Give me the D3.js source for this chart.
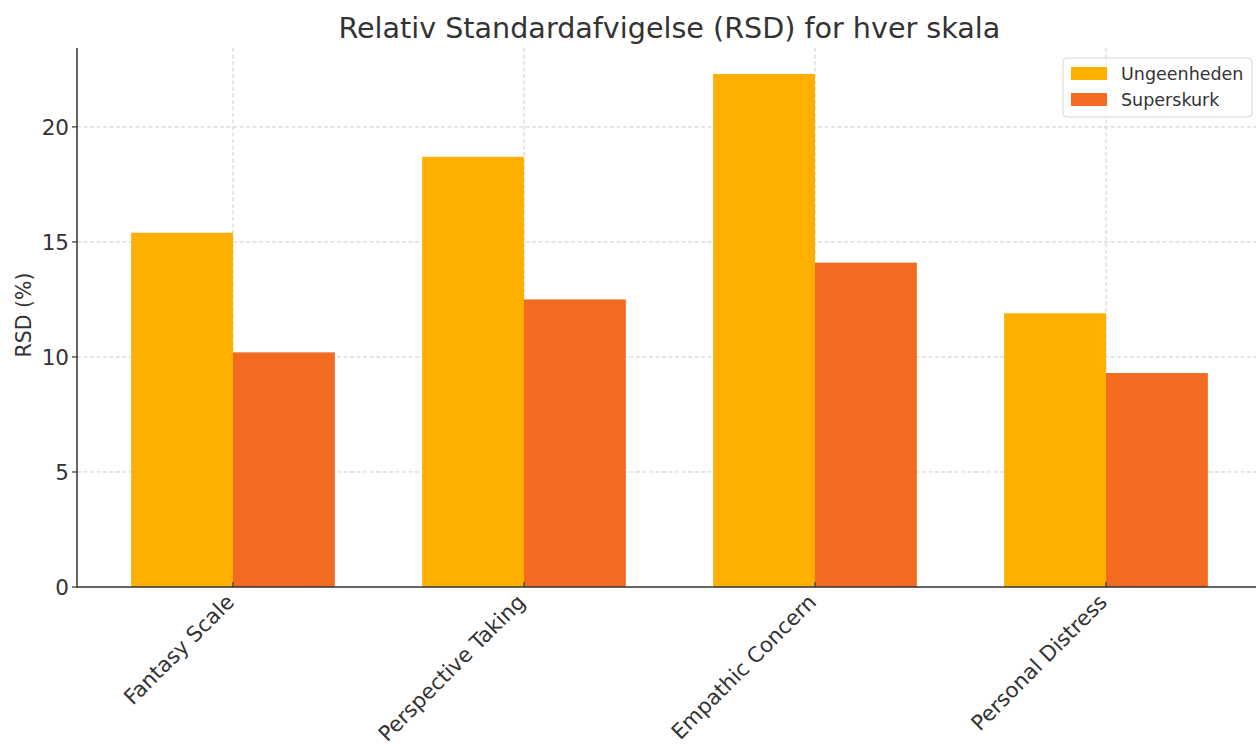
<!DOCTYPE html>
<html>
<head>
<meta charset="utf-8">
<script src="https://cdn.jsdelivr.net/npm/d3@7"></script>
<style>
  body { margin: 0; background: #fff; }
  svg text { font-family: "DejaVu Sans", sans-serif; fill: #333; }
</style>
</head>
<body>
<div id="chart"></div>
<script>
  // data
  const categories = ['Fantasy Scale', 'Perspective Taking', 'Empathic Concern', 'Personal Distress'];
  const seriesNames = ['Ungeenheden', 'Superskurk'];
  const ungeenheden = [15.4, 18.7, 22.3, 11.9];
  const superskurk = [10.2, 12.5, 14.1, 9.3];
  const yTicks = [0, 5, 10, 15, 20];
  const colors = ['#ffaf00', '#f26b21'];

  (function() {
    const W = 1256, H = 747;
    const plotLeft = 77, plotTop = 48, plotBottom = 587;
    const barW = 0.35;

    const svg = d3.select('#chart').append('svg')
      .attr('width', W).attr('height', H);

    const x = d3.scaleLinear().domain([0, categories.length - 1]).range([233, 1106]);
    const span = categories.length - 1 + 2 * barW;
    const xMax = categories.length - 1 + barW + 0.05 * span;
    const y = d3.scaleLinear().domain([0, 23.43]).range([plotBottom, plotTop]);
    const plotRight = x(xMax);

    // grid
    const grid = svg.append('g').attr('stroke', '#cccccc').attr('stroke-width', 1).attr('stroke-dasharray', '4,2.5');
    grid.selectAll('line.h').data(yTicks.slice(1)).enter().append('line')
      .attr('x1', plotLeft).attr('x2', plotRight)
      .attr('y1', d => y(d)).attr('y2', d => y(d));
    grid.selectAll('line.v').data(categories).enter().append('line')
      .attr('x1', (d, i) => x(i)).attr('x2', (d, i) => x(i))
      .attr('y1', plotTop).attr('y2', plotBottom);

    // bars
    const series = [ungeenheden, superskurk];
    series.forEach((vals, s) => {
      svg.append('g').selectAll('rect').data(vals).enter().append('rect')
        .attr('x', (d, i) => x(i + (s - 1) * barW))
        .attr('width', x(barW) - x(0))
        .attr('y', d => y(d))
        .attr('height', d => y(0) - y(d))
        .attr('fill', colors[s]);
    });

    // spines
    svg.append('line').attr('x1', plotLeft).attr('x2', plotLeft).attr('y1', plotTop).attr('y2', plotBottom + 0.75)
      .attr('stroke', '#333').attr('stroke-width', 1.5);
    svg.append('line').attr('x1', plotLeft).attr('x2', plotRight).attr('y1', plotBottom).attr('y2', plotBottom)
      .attr('stroke', '#333').attr('stroke-width', 1.5);

    // y axis ticks
    const yAxis = svg.append('g');
    yTicks.forEach(t => {
      yAxis.append('line').attr('x1', plotLeft - 5).attr('x2', plotLeft).attr('y1', y(t)).attr('y2', y(t))
        .attr('stroke', '#333').attr('stroke-width', 1.2);
      yAxis.append('text').attr('x', plotLeft - 8).attr('y', y(t)).attr('dy', '0.36em')
        .attr('text-anchor', 'end').attr('font-size', 21.5).text(t);
    });

    // x axis ticks + labels
    const xAxis = svg.append('g');
    categories.forEach((c, i) => {
      xAxis.append('line').attr('x1', x(i)).attr('x2', x(i)).attr('y1', plotBottom).attr('y2', plotBottom - 5)
        .attr('stroke', '#333').attr('stroke-width', 1.2);
      xAxis.append('text')
        .attr('transform', `translate(${x(i) - 3},${plotBottom + 11}) rotate(-45)`)
        .attr('text-anchor', 'end').attr('dy', '0.36em')
        .attr('font-size', 21.2).text(c);
    });

    // y label
    svg.append('text').attr('transform', 'translate(24,315) rotate(-90)')
      .attr('text-anchor', 'middle').attr('dy', '0.36em')
      .attr('font-size', 20.5).text('RSD (%)');

    // title
    svg.append('text').attr('x', (plotLeft + plotRight) / 2).attr('y', 38)
      .attr('text-anchor', 'middle').attr('font-size', 28.6)
      .text('Relativ Standardafvigelse (RSD) for hver skala');

    // legend
    const lg = svg.append('g').attr('transform', 'translate(1063,58)');
    lg.append('rect').attr('width', 189).attr('height', 59).attr('rx', 4)
      .attr('fill', 'rgba(255,255,255,0.8)').attr('stroke', '#d6d6d6').attr('stroke-width', 1);
    seriesNames.forEach((n, i) => {
      lg.append('rect').attr('x', 8).attr('y', 9 + i * 26).attr('width', 36).attr('height', 13)
        .attr('fill', colors[i]);
      lg.append('text').attr('x', 58).attr('y', 15.5 + i * 26).attr('dy', '0.36em')
        .attr('font-size', 17.5).text(n);
    });
  })();
</script>
</body>
</html>
